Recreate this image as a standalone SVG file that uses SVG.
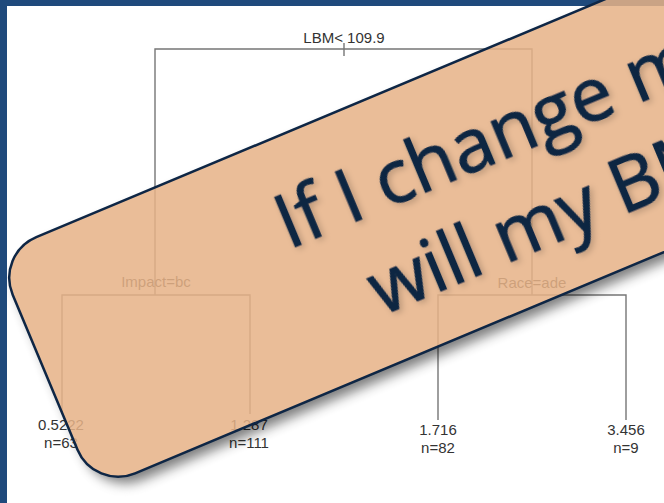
<svg xmlns="http://www.w3.org/2000/svg" width="664" height="503" viewBox="0 0 664 503">
  <defs>
    <style>
      .edge { fill: none; stroke: #767676; stroke-width: 1.4; }
      .lbl { font-family: "Liberation Sans", Arial, Helvetica, sans-serif; font-size: 15px; fill: #333333; text-anchor: middle; }
      .big { font-family: "Open Sans", "Noto Sans", sans-serif; font-size: 75px; fill: #0f2643; stroke: #0f2643; stroke-width: 1.1; }
    </style>
    <filter id="shadowOnly" x="-20%" y="-20%" width="140%" height="160%">
      <feGaussianBlur in="SourceAlpha" stdDeviation="6" result="b"/>
      <feOffset in="b" dx="4" dy="9" result="o"/>
      <feFlood flood-color="#000000" flood-opacity="0.5" result="f"/>
      <feComposite in="f" in2="o" operator="in" result="s"/>
      <feComposite in="s" in2="SourceAlpha" operator="out"/>
    </filter>
    <filter id="textShadow" x="-10%" y="-20%" width="120%" height="160%">
      <feDropShadow dx="2" dy="3" stdDeviation="3" flood-color="#000000" flood-opacity="0.2"/>
    </filter>
  </defs>

  <rect x="0" y="0" width="664" height="503" fill="#ffffff"/>
  <g id="frame">
    <rect x="0" y="0" width="664" height="6" fill="#1f4a7c"/>
    <rect x="0" y="0" width="7" height="503" fill="#1f4a7c"/>
  </g>

  <g id="connectors">
    <path class="edge" d="M155,295 V49 H532 V295"/>
    <path class="edge" d="M344,43 V56"/>
    <path class="edge" d="M62,414 V295 H250 V414"/>
    <path class="edge" d="M438,420 V295 H626 V420"/>
  </g>

  <g id="node-root">
    <text class="lbl" x="344" y="43">LBM&lt; 109.9</text>
  </g>
  <g id="node-impact">
    <text class="lbl" x="156" y="287">Impact=bc</text>
  </g>
  <g id="node-race">
    <text class="lbl" x="532" y="288">Race=ade</text>
  </g>
  <g id="leaf-1">
    <text class="lbl" x="61" y="430">0.5222</text>
    <text class="lbl" x="61" y="448">n=63</text>
  </g>
  <g id="leaf-2">
    <text class="lbl" x="249" y="430">1.287</text>
    <text class="lbl" x="249" y="448">n=111</text>
  </g>
  <g id="leaf-3">
    <text class="lbl" x="438" y="435">1.716</text>
    <text class="lbl" x="438" y="453">n=82</text>
  </g>
  <g id="leaf-4">
    <text class="lbl" x="626" y="435">3.456</text>
    <text class="lbl" x="626" y="453">n=9</text>
  </g>

  <g id="callout" transform="translate(-4.3,254.1) rotate(-22.7)">
    <rect x="0" y="0" width="900" height="256" rx="44" ry="44" fill="#000" filter="url(#shadowOnly)"/>
    <rect x="0" y="0" width="900" height="256" rx="44" ry="44" fill="#e6b287" fill-opacity="0.86" stroke="#0e2645" stroke-width="2.5"/>
    <g filter="url(#textShadow)">
      <text class="big" x="272" y="109">If I change my</text>
      <text class="big" x="332" y="206">will my BMI</text>
    </g>
  </g>
</svg>
